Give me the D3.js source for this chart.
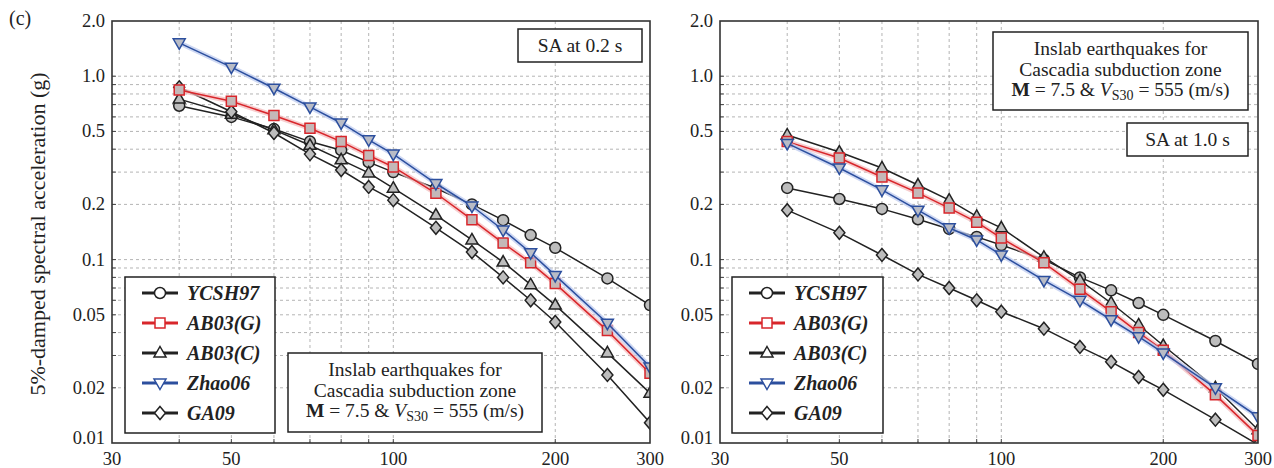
<!DOCTYPE html>
<html lang="en">
<head>
<meta charset="UTF-8">
<title>SA attenuation - inslab Cascadia</title>
<style>
    html, body { margin: 0; background: #fff; }
    svg { display: block; }
    text { font-family: "Liberation Serif", "Times New Roman", serif; fill: #222; }
    .grid line { stroke: #b4b4b4; stroke-width: 1; stroke-dasharray: 3,3; }
    .frame { fill: none; stroke: #333; stroke-width: 1.6; }
    .tick-label { font-size: 18.5px; }
    .legend-label { font-size: 20px; font-weight: bold; font-style: italic; }
    .note { font-size: 19.5px; }
</style>
</head>
<body>
<main></main>
<script src="https://d3js.org/d3.v7.min.js"></script>
<script>
// - - - - - - - - - -
// data
// - - - - - - - - - -
const distances = [40, 50, 60, 70, 80, 90, 100, 120, 140, 160, 180, 200, 250, 300];
const modelNames = ['YCSH97', 'AB03(G)', 'AB03(C)', 'Zhao06', 'GA09'];

// SA at 0.2 s
const sa02_YCSH97 = [0.69, 0.60, 0.515, 0.44, 0.395, 0.34, 0.30, 0.245, 0.20, 0.164, 0.136, 0.116, 0.079, 0.0565];
const sa02_AB03G  = [0.84, 0.73, 0.61, 0.52, 0.44, 0.37, 0.32, 0.23, 0.165, 0.123, 0.096, 0.074, 0.041, 0.024];
const sa02_AB03C  = [0.75, 0.62, 0.51, 0.42, 0.35, 0.297, 0.245, 0.175, 0.128, 0.097, 0.073, 0.0565, 0.031, 0.0187];
const sa02_Zhao06 = [1.52, 1.12, 0.86, 0.68, 0.556, 0.45, 0.376, 0.26, 0.196, 0.145, 0.109, 0.082, 0.045, 0.026];
const sa02_GA09   = [0.87, 0.64, 0.49, 0.376, 0.308, 0.249, 0.211, 0.149, 0.11, 0.080, 0.060, 0.0457, 0.0235, 0.0129];

// SA at 1.0 s
const sa10_YCSH97 = [0.246, 0.214, 0.189, 0.166, 0.147, 0.133, 0.12, 0.10, 0.080, 0.068, 0.058, 0.050, 0.036, 0.027];
const sa10_AB03G  = [0.44, 0.358, 0.282, 0.231, 0.191, 0.160, 0.131, 0.096, 0.069, 0.052, 0.040, 0.032, 0.0183, 0.011];
const sa10_AB03C  = [0.478, 0.386, 0.316, 0.255, 0.211, 0.172, 0.149, 0.103, 0.077, 0.058, 0.044, 0.034, 0.020, 0.0118];
const sa10_Zhao06 = [0.43, 0.316, 0.24, 0.186, 0.149, 0.128, 0.106, 0.077, 0.060, 0.047, 0.038, 0.031, 0.020, 0.0139];
const sa10_GA09   = [0.186, 0.140, 0.106, 0.083, 0.070, 0.060, 0.052, 0.042, 0.0334, 0.0277, 0.0229, 0.0195, 0.0134, 0.0098];

const xTicks = [30, 50, 100, 200, 300];
const yTicks = [2.0, 1.0, 0.5, 0.2, 0.1, 0.05, 0.02, 0.01];
const yTickLabels = ['2.0', '1.0', '0.5', '0.2', '0.1', '0.05', '0.02', '0.01'];
const xGrid = [40, 50, 60, 70, 80, 90, 100, 200];
const yGrid = [0.02, 0.03, 0.04, 0.05, 0.06, 0.07, 0.08, 0.09,
               0.1, 0.2, 0.3, 0.4, 0.5, 0.6, 0.7, 0.8, 0.9, 1.0];

!(function () {
    'use strict';

    let svg;
    const canvas = { width: 1274, height: 468 };
    const top = 21, bottom = 443;

    // marker / line style per model
    const styles = {
        'YCSH97':  { shape: 'circle',   line: '#222', edge: '#222', fill: '#bdbdbd' },
        'AB03(G)': { shape: 'square',   line: '#d8262b', edge: '#d8262b', fill: '#c4b8b8', halo: '#f4b9bb' },
        'AB03(C)': { shape: 'triUp',    line: '#222', edge: '#222', fill: '#bdbdbd' },
        'Zhao06':  { shape: 'triDown',  line: '#2c4f9e', edge: '#2c4f9e', fill: '#b9bcc6', halo: '#b9c8ee' },
        'GA09':    { shape: 'diamond',  line: '#222', edge: '#222', fill: '#bdbdbd' }
    };
    const drawOrder = ['YCSH97', 'AB03(C)', 'GA09', 'AB03(G)', 'Zhao06'];

    /** path for a marker shape centred on 0,0 */
    function markerPath(shape) {
        switch (shape) {
            case 'square': return 'M-5,-5H5V5H-5Z';
            case 'triUp': return 'M0,-6.5L6,4L-6,4Z';
            case 'triDown': return 'M0,6.5L6,-4L-6,-4Z';
            case 'diamond': return 'M0,-6.5L5.5,0L0,6.5L-5.5,0Z';
            default: return '';
        }
    }

    function appendMarker(g, st, x, y, fill) {
        if (st.shape === 'circle') {
            g.append('circle').attr('cx', x).attr('cy', y).attr('r', 5.5)
                .attr('fill', fill).attr('stroke', st.edge).attr('stroke-width', 1.5);
        } else {
            g.append('path').attr('d', markerPath(st.shape))
                .attr('transform', 'translate(' + x + ',' + y + ')')
                .attr('fill', fill).attr('stroke', st.edge).attr('stroke-width', 1.5);
        }
    }

    function setSvg() {
        svg = d3.select('main').append('svg')
            .attr('width', canvas.width)
            .attr('height', canvas.height);
    }

    /** one panel: frame, grid, ticks, curves */
    function drawPanel(opt) {
        const x = d3.scaleLog().domain([30, 300]).range([opt.left, opt.right]);
        const y = d3.scaleLog().domain([0.01, 2.0]).range([bottom, top]);
        const g = svg.append('g');
        const clipId = 'clip-' + opt.id;

        g.append('clipPath').attr('id', clipId)
            .append('rect').attr('x', opt.left).attr('y', top)
            .attr('width', opt.right - opt.left).attr('height', bottom - top);

        // grid
        const grid = g.append('g').attr('class', 'grid');
        grid.selectAll('.gx').data(xGrid).enter().append('line')
            .attr('x1', d => x(d)).attr('x2', d => x(d))
            .attr('y1', top).attr('y2', bottom);
        grid.selectAll('.gy').data(yGrid).enter().append('line')
            .attr('x1', opt.left).attr('x2', opt.right)
            .attr('y1', d => y(d)).attr('y2', d => y(d));

        // small inward ticks on the bottom and left axes
        g.selectAll('.tx').data(xGrid).enter().append('line')
            .attr('x1', d => x(d)).attr('x2', d => x(d))
            .attr('y1', bottom).attr('y2', bottom - 4)
            .attr('stroke', '#444').attr('stroke-width', 1);
        g.selectAll('.ty').data(yGrid).enter().append('line')
            .attr('x1', opt.left).attr('x2', opt.left + 4)
            .attr('y1', d => y(d)).attr('y2', d => y(d))
            .attr('stroke', '#444').attr('stroke-width', 1);

        // tick labels
        g.selectAll('.yl').data(yTicks).enter().append('text')
            .attr('class', 'tick-label')
            .attr('x', opt.left - 7)
            .attr('y', (d, i) => y(d) + (i === yTicks.length - 1 ? 1 : 6))
            .attr('text-anchor', 'end')
            .text((d, i) => yTickLabels[i]);
        g.selectAll('.xl').data(xTicks).enter().append('text')
            .attr('class', 'tick-label')
            .attr('x', d => x(d))
            .attr('y', 465)
            .attr('text-anchor', 'middle')
            .text(d => d);

        // curves
        const line = d3.line().x((d, i) => x(distances[i])).y(d => y(d));
        const curves = g.append('g').attr('clip-path', 'url(#' + clipId + ')');
        drawOrder.forEach(function (name) {
            const st = styles[name];
            const vals = opt.series[name];
            if (st.halo) {
                curves.append('path').attr('d', line(vals)).attr('fill', 'none')
                    .attr('stroke', st.halo).attr('stroke-width', 5).attr('opacity', 0.7);
            }
            curves.append('path').attr('d', line(vals)).attr('fill', 'none')
                .attr('stroke', st.line).attr('stroke-width', 1.5);
            vals.forEach(function (v, i) {
                appendMarker(curves, st, x(distances[i]), y(v), st.fill);
            });
        });

        // frame
        g.append('rect').attr('class', 'frame')
            .attr('x', opt.left).attr('y', top)
            .attr('width', opt.right - opt.left).attr('height', bottom - top);
    }

    function drawLegend(x0, y0, w, h) {
        const g = svg.append('g');
        g.append('rect').attr('x', x0).attr('y', y0).attr('width', w).attr('height', h)
            .attr('fill', '#fff').attr('stroke', '#222').attr('stroke-width', 1.5);
        const rowY = d3.scalePoint().domain(modelNames).range([y0 + 16, y0 + h - 20]);
        modelNames.forEach(function (name) {
            const st = styles[name];
            const yy = rowY(name);
            g.append('line').attr('x1', x0 + 17).attr('x2', x0 + 53)
                .attr('y1', yy).attr('y2', yy)
                .attr('stroke', st.line).attr('stroke-width', 3);
            appendMarker(g, st, x0 + 35, yy, '#fff');
            g.append('text').attr('class', 'legend-label')
                .attr('x', x0 + 62).attr('y', yy + 7)
                .text(name);
        });
    }

    function drawNoteBox(x0, y0, w, h, lines) {
        const g = svg.append('g');
        g.append('rect').attr('x', x0).attr('y', y0).attr('width', w).attr('height', h)
            .attr('fill', '#fff').attr('stroke', '#222').attr('stroke-width', 1.5);
        const cx = x0 + w / 2;
        lines.forEach(function (ln, i) {
            const t = g.append('text').attr('class', 'note')
                .attr('x', cx).attr('y', lines.length === 1 ? y0 + h / 2 + 6.5 : y0 + 23 + i * 20.5)
                .attr('text-anchor', 'middle');
            if (ln === 'M') {
                t.append('tspan').attr('font-weight', 'bold').text('M');
                t.append('tspan').text(' = 7.5 & ');
                t.append('tspan').attr('font-style', 'italic').text('V');
                t.append('tspan').attr('font-size', '14px').attr('dy', 4).text('S30');
                t.append('tspan').attr('dy', -4).text(' = 555 (m/s)');
            } else {
                t.text(ln);
            }
        });
    }

    function drawLabels() {
        svg.append('text').attr('x', 9).attr('y', 25)
            .style('font-size', '20px').text('(c)');
        svg.append('text')
            .attr('transform', 'translate(45,234) rotate(-90)')
            .attr('text-anchor', 'middle')
            .style('font-size', '22px')
            .text('5%-damped spectral acceleration (g)');
    }

    function main() {
        setSvg();
        drawPanel({
            id: 'a', left: 112, right: 650,
            series: { 'YCSH97': sa02_YCSH97, 'AB03(G)': sa02_AB03G, 'AB03(C)': sa02_AB03C,
                      'Zhao06': sa02_Zhao06, 'GA09': sa02_GA09 }
        });
        drawPanel({
            id: 'b', left: 720, right: 1258,
            series: { 'YCSH97': sa10_YCSH97, 'AB03(G)': sa10_AB03G, 'AB03(C)': sa10_AB03C,
                      'Zhao06': sa10_Zhao06, 'GA09': sa10_GA09 }
        });
        drawLegend(125, 277, 150, 156);
        drawLegend(732, 277, 151, 156);
        drawNoteBox(288, 353, 254, 79, ['Inslab earthquakes for', 'Cascadia subduction zone', 'M']);
        drawNoteBox(518, 29, 124, 33, ['SA at 0.2 s']);
        drawNoteBox(993, 32, 255, 78, ['Inslab earthquakes for', 'Cascadia subduction zone', 'M']);
        drawNoteBox(1127, 123, 121, 33, ['SA at 1.0 s']);
        drawLabels();
    }

    window.addEventListener('load', main);
}());
</script>
</body>
</html>
